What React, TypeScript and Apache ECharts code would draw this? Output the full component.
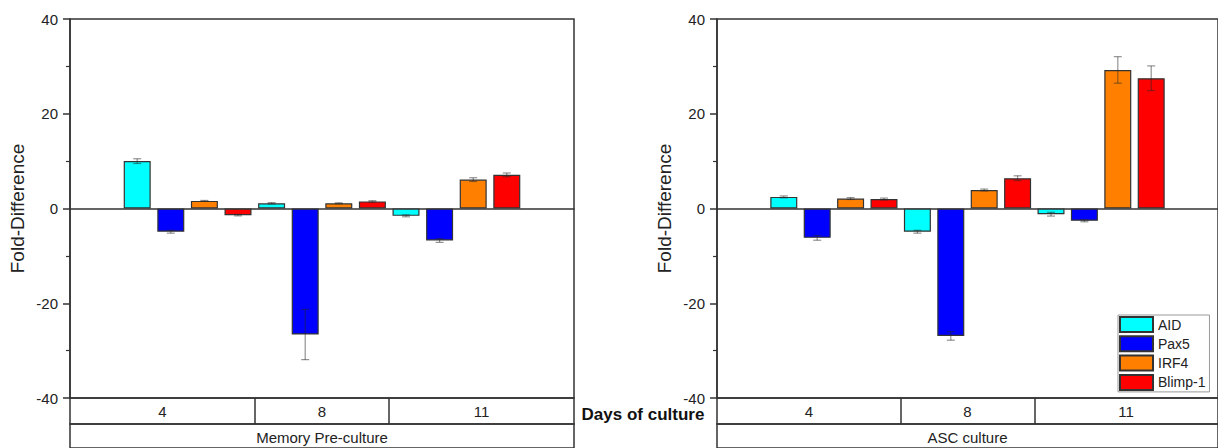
import React, { useEffect, useRef } from "react";
import * as echarts from "echarts";

// ---- data ----
const genes = ["AID", "Pax5", "IRF4", "Blimp-1"];
const geneColors = ["#00FFFF", "#0000FF", "#FF8000", "#FF0000"];
const days = ["4", "8", "11"];
const panels = ["Memory Pre-culture", "ASC culture"];
const yTicks = [-40, -20, 0, 20, 40];

// Memory pre-culture (values, then symmetric error)
const memAID = [10.0, 1.1, -1.55];
const memPax5 = [-4.9, -26.6, -6.75];
const memIRF4 = [1.6, 1.1, 6.1];
const memBlimp1 = [-1.4, 1.5, 7.1];
const memAIDErr = [0.5, 0.15, 0.2];
const memPax5Err = [0.3, 5.3, 0.4];
const memIRF4Err = [0.1, 0.1, 0.4];
const memBlimp1Err = [0.15, 0.15, 0.4];

// ASC culture
const ascAID = [2.45, -4.9, -1.2];
const ascPax5 = [-6.2, -26.9, -2.6];
const ascIRF4 = [2.1, 3.9, 29.25];
const ascBlimp1 = [2.0, 6.4, 27.5];
const ascAIDErr = [0.2, 0.3, 0.4];
const ascPax5Err = [0.5, 0.9, 0.2];
const ascIRF4Err = [0.2, 0.2, 2.8];
const ascBlimp1Err = [0.2, 0.5, 2.6];

const panelValues = [
  [memAID, memPax5, memIRF4, memBlimp1],
  [ascAID, ascPax5, ascIRF4, ascBlimp1],
];
const panelErrors = [
  [memAIDErr, memPax5Err, memIRF4Err, memBlimp1Err],
  [ascAIDErr, ascPax5Err, ascIRF4Err, ascBlimp1Err],
];

const FONT = "Liberation Sans, Arial, sans-serif";
const INK = "#333";

export default function App() {
  const ref = useRef<HTMLDivElement>(null);
  useEffect(() => {
    if (!ref.current) return;
    const chart = echarts.init(ref.current, undefined, { renderer: "svg" });

    const nGenes = genes.length;
    const slot = (di: number, gi: number) => di * nGenes + gi + 2;
    const xMax = days.length * nGenes + 3;
    const bounds = [0];
    for (let d = 0; d < days.length - 1; d++) bounds.push(slot(d, nGenes - 1) + 0.5);
    bounds.push(xMax);
    const inner = bounds.slice(1, -1);
    const centers = days.map((_, d) => (bounds[d] + bounds[d + 1]) / 2);

    const lefts = [70, 717];
    const W = 504;
    const grids: any[] = [];
    const xAxes: any[] = [];
    const yAxes: any[] = [];
    const series: any[] = [];

    panels.forEach((pname, p) => {
      const L = lefts[p];
      const gMain = p * 3, gRow1 = p * 3 + 1, gRow2 = p * 3 + 2;
      grids.push(
        { left: L, top: 19, width: W, height: 379, show: true, borderColor: INK, borderWidth: 1.5, backgroundColor: "transparent" },
        { left: L, top: 398, width: W, height: 26, show: true, borderColor: INK, borderWidth: 1.5, backgroundColor: "transparent" },
        { left: L, top: 424, width: W, height: 40, show: true, borderColor: INK, borderWidth: 1.5, backgroundColor: "transparent" }
      );
      xAxes.push(
        {
          gridIndex: gMain, type: "value", min: 0, max: xMax,
          axisLine: { show: true, onZero: true, lineStyle: { color: INK, width: 1.5 } },
          axisTick: { show: false }, axisLabel: { show: false }, splitLine: { show: false },
        },
        {
          gridIndex: gRow1, type: "value", min: 0, max: xMax, position: "bottom",
          axisLine: { show: false },
          axisTick: { show: true, customValues: inner, inside: true, length: 26, lineStyle: { color: INK, width: 1.5 } },
          axisLabel: {
            show: true, customValues: centers, inside: true, margin: 13, verticalAlign: "middle",
            fontSize: 15, color: "#222", fontFamily: FONT,
            formatter: (v: number, i: number) => {
              const k = centers.findIndex((c) => Math.abs(c - v) < 1e-6);
              return days[k >= 0 ? k : i] ?? "";
            },
          },
          splitLine: { show: false },
          name: pname, nameLocation: "middle", nameGap: 13,
          nameTextStyle: { fontSize: 15, color: "#222", verticalAlign: "middle", fontFamily: FONT },
        },
        { gridIndex: gRow2, type: "value", min: 0, max: xMax, show: false }
      );
      yAxes.push(
        {
          gridIndex: gMain, type: "value", min: yTicks[0], max: yTicks[yTicks.length - 1], interval: 20,
          axisLine: { show: true, lineStyle: { color: INK, width: 1.5 } },
          axisTick: { show: true, length: 7, lineStyle: { color: INK, width: 1.5 } },
          minorTick: { show: true, splitNumber: 2, length: 4, lineStyle: { color: INK, width: 1.2 } },
          axisLabel: { margin: 12, fontSize: 15, color: "#222", fontFamily: FONT },
          splitLine: { show: false },
          name: "Fold-Difference", nameLocation: "middle", nameGap: 43,
          nameTextStyle: { fontSize: 19, color: "#222", fontFamily: FONT },
        },
        { gridIndex: gRow1, type: "value", show: false },
        { gridIndex: gRow2, type: "value", show: false }
      );

      genes.forEach((g, gi) => {
        series.push({
          type: "bar", name: g, xAxisIndex: gMain, yAxisIndex: gMain,
          barWidth: 27, barGap: "-100%",
          itemStyle: { color: geneColors[gi], borderColor: INK, borderWidth: 1.2 },
          data: panelValues[p][gi].map((v, di) => [slot(di, gi), v]),
          z: 2,
        });
      });
      series.push({
        type: "custom", xAxisIndex: gMain, yAxisIndex: gMain, z: 5,
        encode: { x: 0, y: 1 },
        data: genes.flatMap((_, gi) =>
          panelValues[p][gi].map((v, di) => [slot(di, gi), v, panelErrors[p][gi][di]])
        ),
        renderItem: (params: any, api: any) => {
          const x = api.value(0), v = api.value(1), e = api.value(2);
          const a = api.coord([x, v + e]);
          const b = api.coord([x, v - e]);
          const cw = 4;
          const style = { stroke: "rgba(40,40,40,0.5)", lineWidth: 1.2 };
          return {
            type: "group",
            children: [
              { type: "line", shape: { x1: a[0], y1: a[1], x2: b[0], y2: b[1] }, style },
              { type: "line", shape: { x1: a[0] - cw, y1: a[1], x2: a[0] + cw, y2: a[1] }, style },
              { type: "line", shape: { x1: b[0] - cw, y1: b[1], x2: b[0] + cw, y2: b[1] }, style },
            ],
          };
        },
      });
    });

    chart.setOption({
      animation: false,
      textStyle: { fontFamily: FONT },
      grid: grids,
      xAxis: xAxes,
      yAxis: yAxes,
      series,
      legend: {
        data: genes,
        orient: "vertical",
        left: 1118,
        top: 315,
        itemWidth: 33,
        itemHeight: 15,
        itemGap: 2.3,
        padding: [1, 4, 1, 1],
        borderColor: "#999",
        borderWidth: 1,
        icon: "rect",
        textStyle: { fontSize: 14, color: "#222", fontFamily: FONT },
      },
      graphic: [
        {
          type: "text", x: 643, y: 414,
          style: {
            text: "Days of culture", fontSize: 17, fontWeight: "bold", fill: "#111",
            fontFamily: FONT, align: "center", verticalAlign: "middle",
          },
        },
      ],
    });
    return () => chart.dispose();
  }, []);
  return (
    <div
      ref={ref}
      style={{ position: "absolute", left: 0, top: 0, width: 1218, height: 448, overflow: "hidden", background: "#fff" }}
    />
  );
}
